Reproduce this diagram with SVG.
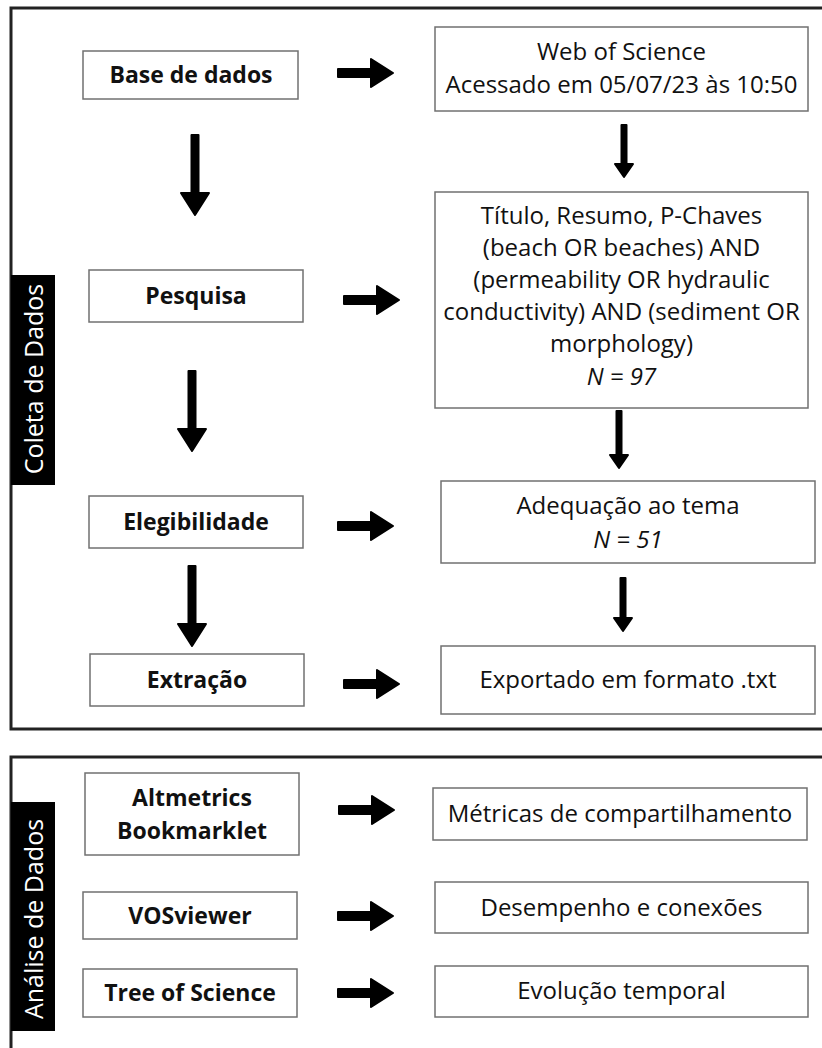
<svg xmlns="http://www.w3.org/2000/svg" xmlns:xlink="http://www.w3.org/1999/xlink" width="822" height="1048" viewBox="0 0 822 1048">
<style>
.frame{fill:none;stroke:#222;stroke-width:3}
.box{fill:#fff;stroke:#707070;stroke-width:1.5}
.side{fill:#000}
.sidet{font-family:"Open Sans","Liberation Sans",sans-serif;font-size:25px;fill:#fff;text-anchor:middle}
.b{font-family:"Open Sans","Liberation Sans",sans-serif;font-weight:700;font-size:23px;fill:#111;text-anchor:middle}
.r{font-family:"Open Sans","Liberation Sans",sans-serif;font-size:24px;fill:#111;text-anchor:middle}
.i{font-style:italic}
.arr{fill:#000;stroke:#000;stroke-width:2;stroke-linejoin:round}
</style>
<defs>
<path id="aR" d="M0,-4 H33 V-14 L55,0 L33,14 V4 H0 Z"/>
<path id="aD" d="M-3.5,0 V58 H-14 L0,80 L14,58 H3.5 V0 Z"/>
</defs>
<g id="frames">
<path class="frame" d="M824,8 H11 V729 H824"/>
<path class="frame" d="M824,757 H11 V1050"/>
</g>
<g id="label-coleta">
<rect class="side" x="11" y="275" width="44" height="210"/>
<text class="sidet" transform="translate(43,379) rotate(-90)">Coleta de Dados</text>
</g>
<g id="label-analise">
<rect class="side" x="11" y="802" width="44" height="229"/>
<text class="sidet" transform="translate(43,919) rotate(-90)">Análise de Dados</text>
</g>
<g id="n-base"><rect class="box" x="83" y="51" width="215" height="48"/><text class="b" x="191" y="83">Base de dados</text></g>
<g id="n-pesquisa"><rect class="box" x="89" y="270" width="214" height="52"/><text class="b" x="196" y="304">Pesquisa</text></g>
<g id="n-elegibilidade"><rect class="box" x="89" y="496" width="214" height="52"/><text class="b" x="196" y="530">Elegibilidade</text></g>
<g id="n-extracao"><rect class="box" x="90" y="654" width="214" height="52"/><text class="b" x="197" y="688">Extração</text></g>
<g id="n-altmetrics"><rect class="box" x="85" y="773" width="214" height="82"/><text class="b" x="192" y="806">Altmetrics</text><text class="b" x="192" y="839">Bookmarklet</text></g>
<g id="n-vosviewer"><rect class="box" x="83" y="892" width="214" height="47"/><text class="b" x="190" y="924">VOSviewer</text></g>
<g id="n-tos"><rect class="box" x="83" y="969" width="214" height="48"/><text class="b" x="190" y="1001">Tree of Science</text></g>
<g id="n-wos"><rect class="box" x="435" y="27" width="373" height="84"/><text class="r" x="621.5" y="60">Web of Science</text><text class="r" x="621.5" y="93">Acessado em 05/07/23 às 10:50</text></g>
<g id="n-query"><rect class="box" x="435" y="192" width="373" height="216"/>
<text class="r" x="621.5" y="224">Título, Resumo, P-Chaves</text>
<text class="r" x="621.5" y="256">(beach OR beaches) AND</text>
<text class="r" x="621.5" y="288">(permeability OR hydraulic</text>
<text class="r" x="621.5" y="320">conductivity) AND (sediment OR</text>
<text class="r" x="621.5" y="352">morphology)</text>
<text class="r i" x="621.5" y="385">N = 97</text></g>
<g id="n-adequacao"><rect class="box" x="441" y="481" width="374" height="82"/><text class="r" x="628" y="514">Adequação ao tema</text><text class="r i" x="628" y="548">N = 51</text></g>
<g id="n-exportado"><rect class="box" x="441" y="646" width="374" height="68"/><text class="r" x="628" y="688">Exportado em formato .txt</text></g>
<g id="n-metricas"><rect class="box" x="433" y="788" width="374" height="52"/><text class="r" x="620" y="822">Métricas de compartilhamento</text></g>
<g id="n-desempenho"><rect class="box" x="435" y="882" width="373" height="51"/><text class="r" x="621.5" y="916">Desempenho e conexões</text></g>
<g id="n-evolucao"><rect class="box" x="435" y="966" width="373" height="51"/><text class="r" x="621.5" y="999">Evolução temporal</text></g>
<g id="connectors">
<use class="arr" xlink:href="#aR" href="#aR" x="338" y="73"/>
<use class="arr" xlink:href="#aR" href="#aR" x="344" y="300"/>
<use class="arr" xlink:href="#aR" href="#aR" x="338" y="526"/>
<use class="arr" xlink:href="#aR" href="#aR" x="344" y="684"/>
<use class="arr" xlink:href="#aR" href="#aR" x="339" y="810"/>
<use class="arr" xlink:href="#aR" href="#aR" x="338" y="916"/>
<use class="arr" xlink:href="#aR" href="#aR" x="338" y="993"/>
<use class="arr" xlink:href="#aD" href="#aD" x="195" y="135"/>
<use class="arr" xlink:href="#aD" href="#aD" x="192" y="371"/>
<use class="arr" xlink:href="#aD" href="#aD" x="192" y="566"/>
<path class="arr" d="M621.5,125 V164 H615 L624,177 L633,164 H626.5 V125 Z"/>
<path class="arr" d="M616.5,411 V455 H610 L619,468 L628,455 H621.5 V411 Z"/>
<path class="arr" d="M620.5,578 V618 H614 L623,631 L632,618 H625.5 V578 Z"/>
</g>
</svg>
